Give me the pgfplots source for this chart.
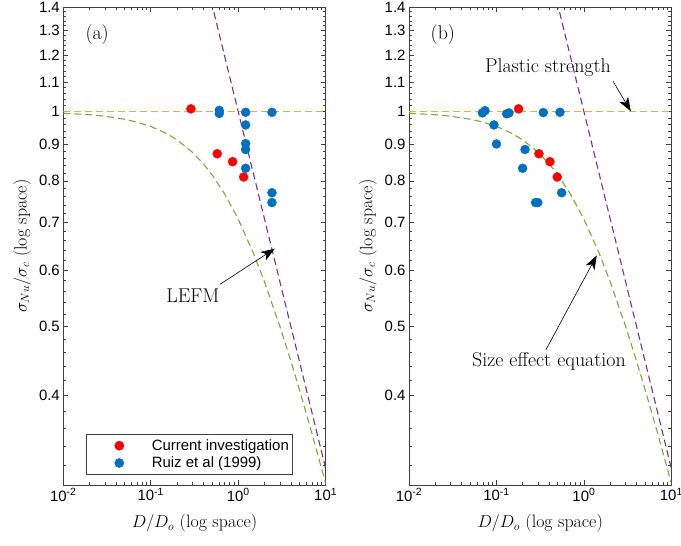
\documentclass[border=0pt]{standalone}
\usepackage{fontspec}
\usepackage{pgfplots}
\pgfplotsset{compat=1.18}
\usetikzlibrary{arrows.meta}
\newfontfamily\sans{Liberation Sans}
\definecolor{mblue}{RGB}{0,114,189}
\definecolor{MatOrange}{RGB}{237,177,32}
\definecolor{mgreen}{RGB}{119,172,48}
\definecolor{mpurple}{RGB}{126,47,142}
\definecolor{axgray}{rgb}{0.25,0.25,0.25}

\pgfplotsset{mypanel/.style={
  scale only axis, width=262.4bp, height=477.7bp,
  xmin=0.01, xmax=10, ymin=0.3, ymax=1.4,
  xtick={0.01,0.1,1,10},
  xticklabels={10\textsuperscript{-2},10\textsuperscript{-1},10\textsuperscript{0},10\textsuperscript{1}},
  minor xtick={0.02,0.03,0.04,0.05,0.06,0.07,0.08,0.09,0.2,0.3,0.4,0.5,0.6,0.7,0.8,0.9,2,3,4,5,6,7,8,9},
  ytick={0.4,0.5,0.6,0.7,0.8,0.9,1,1.1,1.2,1.3,1.4},
  yticklabels={0.4,0.5,0.6,0.7,0.8,0.9,1,1.1,1.2,1.3,1.4},
  minor ytick={0.32,0.34,0.36,0.38,0.42,0.44,0.46,0.48,0.52,0.54,0.56,0.58,0.62,0.64,0.66,0.68,0.72,0.74,0.76,0.78,0.82,0.84,0.86,0.88,0.92,0.94,0.96,0.98,1.02,1.04,1.06,1.08,1.12,1.14,1.16,1.18,1.22,1.24,1.26,1.28,1.32,1.34,1.36,1.38},
  tick align=inside, major tick length=5bp, minor tick length=3bp,
  axis line style={axgray, line width=0.6bp},
  every tick/.style={axgray, line width=0.6bp},
  ticklabel style={font=\sans\fontsize{15}{18}\selectfont},
  xlabel={$D/D_o$ (log space)},
  ylabel={$\sigma_{Nu}/\sigma_c$ (log space)},
  label style={font=\fontsize{18}{21}\selectfont},
  xlabel style={at={(axis description cs:0.5,-0.0795)}, anchor=center},
  ylabel style={at={(axis description cs:-0.157,0.5)}, anchor=center},
  clip=true,
}}
\pgfplotsset{
  redpts/.style={only marks, mark=*, mark size=4.5bp, color=red, mark options={fill=red, draw=red},
    legend image code/.code={\path[draw=none] (0bp,0bp) -- (62bp,0bp); \draw[##1,only marks] plot coordinates {(32bp,0bp)};}},
  bluepts/.style={only marks, mark=*, mark size=4.5bp, color=mblue, mark options={fill=mblue, draw=mblue},
    legend image code/.code={\path[draw=none] (0bp,0bp) -- (62bp,0bp); \draw[##1,only marks] plot coordinates {(32bp,0bp)};}},
  dashcurve/.style={line width=1.1bp, dash pattern=on 7bp off 4bp, forget plot},
  orangecurve/.style={draw={rgb,255:red,237;green,177;blue,32}, line width=1.2bp, dash pattern=on 7bp off 4bp, forget plot},
}

\pgfplotstableread{
D s
0.01 0.99504
0.02 0.99015
0.03 0.98533
0.05 0.97590
0.07 0.96674
0.1 0.95346
0.15 0.93250
0.2 0.91287
0.3 0.87706
0.4 0.84515
0.5 0.81650
0.7 0.76696
1 0.70711
1.5 0.63246
2 0.57735
3 0.5
4 0.44721
5 0.40825
7 0.35355
10 0.30151
}\sizetab

\begin{document}
\begin{tikzpicture}
\useasboundingbox (0,0) rectangle (681bp,546bp);

% ---------------- panel (a)
\begin{loglogaxis}[mypanel, at={(63.3bp,61bp)}, anchor=south west,
  legend style={at={(rel axis cs:0.0865,0.021)}, anchor=south west,
    draw=axgray, line width=0.6bp, font=\sans\fontsize{15}{18}\selectfont,
    inner xsep=1bp, inner ysep=3bp,
    nodes={inner sep=2.5bp}},
  legend cell align=left,
]
\addplot[draw=mgreen, dashcurve] table[x=D,y=s] {\sizetab};
\addplot[draw=mpurple, dashcurve] coordinates {(0.4,1.58114) (10,0.31623)};
\addplot[orangecurve] coordinates {(0.01,1) (10,1)};
\addplot[redpts] coordinates {(0.288,1.009) (0.575,0.873) (0.863,0.851) (1.153,0.810)};
\addlegendentry{Current investigation}
\addplot[bluepts] coordinates {(0.607,1.004) (0.607,0.994) (1.215,0.998) (1.215,0.958) (1.215,0.902) (1.215,0.885) (1.215,0.833) (2.43,0.998) (2.43,0.770) (2.43,0.746)};
\addlegendentry{Ruiz et al (1999)}
\node[font=\fontsize{20}{23}\selectfont] at (rel axis cs:0.129,0.944) {(a)};
\node[font=\fontsize{20}{23}\selectfont] at (axis cs:0.303,0.553) {LEFM};
\draw[-{Stealth[length=14bp,width=10bp,inset=4bp]}, line width=0.6bp] (axis cs:0.618,0.573) -- (axis cs:2.62,0.643);
\end{loglogaxis}

% ---------------- panel (b)
\begin{loglogaxis}[mypanel, at={(409bp,61bp)}, anchor=south west]
\addplot[draw=mgreen, dashcurve] table[x=D,y=s] {\sizetab};
\addplot[draw=mpurple, dashcurve] coordinates {(0.4,1.58114) (10,0.31623)};
\addplot[orangecurve] coordinates {(0.01,1) (10,1)};
\addplot[redpts] coordinates {(0.179,1.009) (0.306,0.873) (0.409,0.851) (0.495,0.810)};
\addplot[bluepts] coordinates {(0.069,0.996) (0.074,1.003) (0.131,0.993) (0.139,0.996) (0.343,0.997) (0.532,0.998) (0.0936,0.958) (0.100,0.901) (0.212,0.885) (0.199,0.833) (0.556,0.770) (0.280,0.746) (0.297,0.746)};
\node[font=\fontsize{20}{23}\selectfont] at (rel axis cs:0.129,0.944) {(b)};
\node[font=\fontsize{20}{23}\selectfont] at (axis cs:0.388,1.151) {Plastic strength};
\draw[-{Stealth[length=14bp,width=10bp,inset=4bp]}, line width=0.6bp] (axis cs:2.16,1.102) -- (axis cs:3.44,1.001);
\node[font=\fontsize{20}{23}\selectfont] at (axis cs:0.398,0.447) {Size effect equation};
\draw[-{Stealth[length=14bp,width=10bp,inset=4bp]}, line width=0.6bp] (axis cs:0.368,0.464) -- (axis cs:1.40,0.629);
\end{loglogaxis}
\end{tikzpicture}
\end{document}
